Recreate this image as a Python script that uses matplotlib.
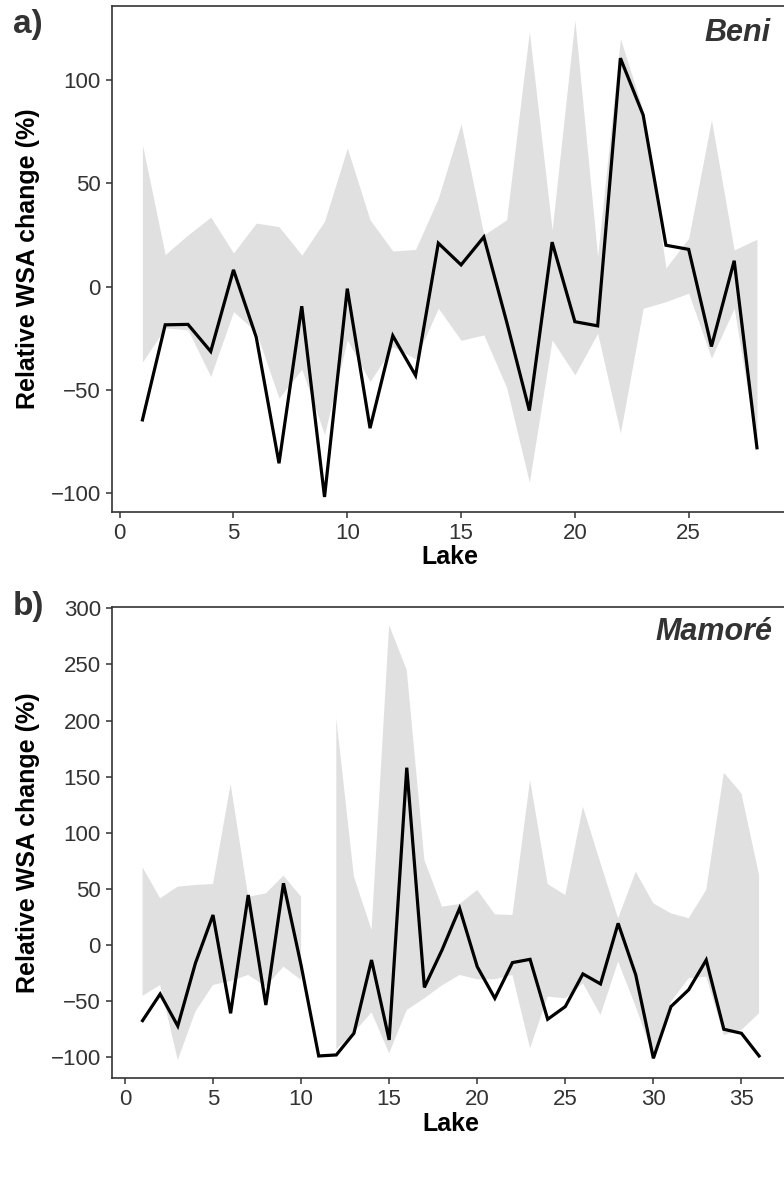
import numpy as np
import matplotlib
matplotlib.use("Agg")
import matplotlib.pyplot as plt

plt.rcParams['font.family'] = ['Liberation Sans', 'DejaVu Sans']

# Panel a) Beni
beni_lake = list(range(1, 29))
beni_change = [-64.5, -18.5, -18.3, -31.4, 8.1, -24.5, -85.5, -9.5, -101.8, -1.0,
               -68.5, -23.8, -43, 21, 10.5, 24, -17, -60, 21.5, -17, -19, 110.5,
               83, 20, 18, -29, 12.5, -78]
beni_upper = [68.6, 15.5, 25, 33.6, 16.3, 30.7, 29, 15.2, 31.6, 67, 32.3, 17.2, 18,
              42.8, 78.7, 25, 32.3, 123.3, 27.4, 129, 14.5, 120, 85, 9, 23.4, 80.6,
              17.7, 22.9]
beni_lower = [-36.5, -20, -21, -43.5, -12.1, -22, -54, -40, -71.5, -25.8, -46, -29,
              -35, -10.5, -26, -23.4, -48.8, -94.7, -25.8, -42.7, -22.6, -70.9,
              -10.5, -7.3, -3.2, -34.6, -10.5, -78]

# Panel b) Mamoré (no band for lake 11)
mamore_lake = list(range(1, 37))
mamore_change = [-67.4, -43.7, -72.2, -16.3, 26.7, -60.9, 44.5, -53.5, 55, -18,
                 -98.9, -98, -78.7, -13.4, -84.6, 158, -37.8, -4.5, 32.7, -19.3,
                 -47.5, -15.7, -12.8, -66.2, -54.9, -25.8, -34.7, 19.3, -26.7, -101,
                 -54.9, -40, -13.4, -75.1, -78.7, -98.9]
mamore_upper = [69.2, 41.6, 52, 53.5, 54.3, 143.4, 43, 46, 61.8, 43, np.nan, 202,
                60.9, 13.4, 285, 245, 75.7, 34.1, 36.5, 49, 27.3, 26.7, 147, 54.3,
                44.5, 123.2, 72.8, 23.8, 65.3, 37.1, 28.2, 23.8, 49, 153.5, 135.1,
                62.4]
mamore_lower = [-45.4, -35.6, -102.5, -59.4, -35.6, -32.1, -26.7, -37.1, -19.3, -31.2,
                np.nan, -93, -78, -60, -96.5, -57.9, -47.5, -36, -26.7, -30.6, -30.6,
                -26.7, -92, -46, -47.5, -34.1, -62.4, -14.8, -55, -99.5, -50.5, -29.7,
                -28.2, -80.2, -75.7, -60.9]

BAND = '#e0e0e0'
TXT = '#333333'


def draw_panel(ax, lake, change, lower, upper, name, xlim, ylim, xticks, yticks):
    ax.fill_between(lake, lower, upper, color=BAND, linewidth=0)
    ax.plot(lake, change, color='black', linewidth=2.3, solid_joinstyle='miter')
    ax.set_xlim(*xlim)
    ax.set_ylim(*ylim)
    ax.set_xticks(xticks)
    ax.set_yticks(yticks)
    ax.tick_params(direction='out', length=4.3, width=1.1, color=TXT,
                   labelsize=16, labelcolor=TXT, pad=3.6)
    for s in ax.spines.values():
        s.set_linewidth(1.2)
        s.set_color(TXT)
    ax.set_xlabel('Lake', fontsize=18, fontweight='bold', labelpad=1)
    ax.set_ylabel('Relative WSA change (%)', fontsize=18, fontweight='bold',
                  labelpad=7.5)
    ax.text(0.974, 0.947, name, transform=ax.transAxes, ha='right', va='center',
            fontsize=22, fontweight='bold', fontstyle='italic', color=TXT)


fig = plt.figure(figsize=(7.84, 11.8), dpi=100)

ax1 = fig.add_axes([0.1425, 0.5664, 0.8622, 0.4286])
draw_panel(ax1, beni_lake, beni_change, beni_lower, beni_upper, 'Beni',
           (-0.35, 29.35), (-108.9, 135.8), range(0, 30, 5), range(-100, 101, 50))

ax2 = fig.add_axes([0.1425, 0.0862, 0.865, 0.3992])
draw_panel(ax2, mamore_lake, mamore_change, mamore_lower, mamore_upper, 'Mamoré',
           (-0.75, 37.75), (-118.8, 301), range(0, 36, 5), range(-100, 301, 50))

fig.text(28 / 784, 1 - 24 / 1180, 'a)', ha='center', va='center', fontsize=24,
         fontweight='bold', color=TXT)
fig.text(28 / 784, 1 - 606 / 1180, 'b)', ha='center', va='center', fontsize=24,
         fontweight='bold', color=TXT)

fig.savefig('out.png', dpi=100)
